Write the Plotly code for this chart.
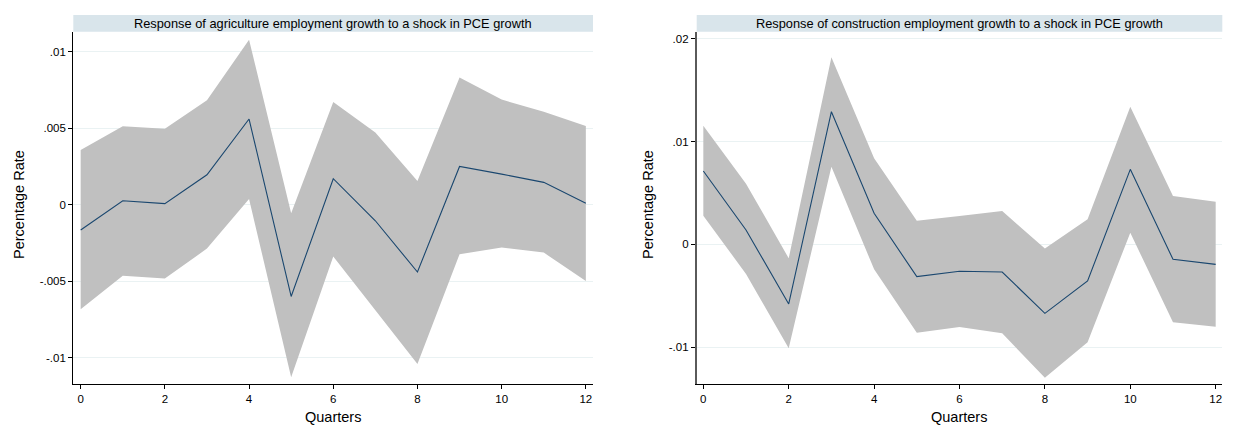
import plotly.graph_objects as go
from plotly.subplots import make_subplots

quarters = list(range(13))

agri_irf = [-0.00165, 0.00026, 0.00007, 0.00196, 0.0056, -0.0060, 0.0017,
            -0.00105, -0.0044, 0.0025, 0.0020, 0.00146, 0.0001]
agri_upper = [0.00357, 0.00513, 0.00496, 0.00683, 0.01079, -0.00056, 0.00672,
              0.00472, 0.00155, 0.00831, 0.00687, 0.00607, 0.00515]
agri_lower = [-0.00683, -0.00465, -0.00483, -0.00287, 0.00037, -0.01128, -0.00339,
              -0.0069, -0.01041, -0.00324, -0.0028, -0.00313, -0.00498]

cons_irf = [0.00714, 0.00139, -0.00581, 0.01291, 0.00302, -0.00315, -0.00263,
            -0.0027, -0.00672, -0.00357, 0.0073, -0.00146, -0.00195]
cons_upper = [0.01155, 0.0059, -0.00136, 0.01821, 0.00837, 0.0023, 0.00276,
              0.00324, -0.00042, 0.00243, 0.0134, 0.0047, 0.00415]
cons_lower = [0.00279, -0.00289, -0.01013, 0.00756, -0.00244, -0.0086, -0.00805,
              -0.00867, -0.01299, -0.00954, 0.00113, -0.0076, -0.00802]

titles = ["Response of agriculture employment growth to a shock in PCE growth",
          "Response of construction employment growth to a shock in PCE growth"]

left_yticks = [-0.01, -0.005, 0, 0.005, 0.01]
left_yticklabels = ["-.01", "-.005", "0", ".005", ".01"]
right_yticks = [-0.01, 0, 0.01, 0.02]
right_yticklabels = ["-.01", "0", ".01", ".02"]
xticks = [0, 2, 4, 6, 8, 10, 12]

W, H = 1233, 427
FONT = "Liberation Sans, Arial, sans-serif"
NAVY = "#1a476f"
BAND = "#c0c0c0"

fig = make_subplots(rows=1, cols=2)

panels = [
    (agri_irf, agri_upper, agri_lower, 1),
    (cons_irf, cons_upper, cons_lower, 2),
]
for irf, up, lo, col in panels:
    fig.add_trace(go.Scatter(x=quarters, y=up, mode="lines", line=dict(width=0),
                             showlegend=False, hoverinfo="skip"), row=1, col=col)
    fig.add_trace(go.Scatter(x=quarters, y=lo, mode="lines", line=dict(width=0),
                             fill="tonexty", fillcolor=BAND, showlegend=False,
                             hoverinfo="skip"), row=1, col=col)
    fig.add_trace(go.Scatter(x=quarters, y=irf, mode="lines",
                             line=dict(color=NAVY, width=1.1), showlegend=False),
                  row=1, col=col)

# pixel geometry
plot_top, plot_bot = 32, 384.3
ydom = [(H - plot_bot) / H, (H - plot_top) / H]
xdoms = [[73.3 / W, 593 / W], [696.7 / W, 1222.3 / W]]

axis_common = dict(showline=True, ticks="outside", ticklen=4, tickwidth=1,
                   tickcolor="#000000", zeroline=False,
                   tickfont=dict(family=FONT, size=11.5, color="#000000"))

fig.update_xaxes(row=1, col=1, domain=xdoms[0], range=[-0.175, 12.17],
                 tickvals=xticks, ticktext=[str(v) for v in xticks],
                 showgrid=False, linecolor="#000000", linewidth=1.3, **axis_common)
fig.update_xaxes(row=1, col=2, domain=xdoms[1], range=[-0.155, 12.155],
                 tickvals=xticks, ticktext=[str(v) for v in xticks],
                 showgrid=False, linecolor="#000000", linewidth=1.3, **axis_common)
fig.update_yaxes(row=1, col=1, domain=ydom, range=[-0.01174, 0.01129],
                 tickvals=left_yticks, ticktext=left_yticklabels,
                 showgrid=True, gridcolor="#eaf2f3", gridwidth=1,
                 linecolor="#000000", linewidth=1.3, **axis_common)
fig.update_yaxes(row=1, col=2, domain=ydom, range=[-0.01363, 0.02067],
                 tickvals=right_yticks, ticktext=right_yticklabels,
                 showgrid=True, gridcolor="#eaf2f3", gridwidth=1,
                 linecolor="#5a5a5a", linewidth=1.6, **axis_common)

band_top, band_bot = 15, 31.7
for i, (x0, x1) in enumerate(xdoms):
    fig.add_shape(type="rect", xref="paper", yref="paper",
                  x0=x0, x1=x1, y0=(H - band_bot) / H, y1=(H - band_top) / H,
                  fillcolor="#d9e5eb", line=dict(width=0), layer="below")
    fig.add_annotation(xref="paper", yref="paper", x=(x0 + x1) / 2,
                       y=(H - (band_top + band_bot) / 2) / H, text=titles[i],
                       showarrow=False, xanchor="center", yanchor="middle",
                       font=dict(family=FONT, size=12.8, color="#000000"))
    fig.add_annotation(xref="paper", yref="paper", x=(x0 + x1) / 2,
                       y=(H - 417) / H, text="Quarters", showarrow=False,
                       xanchor="center", yanchor="middle",
                       font=dict(family=FONT, size=14.5, color="#000000"))

for xc in [19, 648]:
    fig.add_annotation(xref="paper", yref="paper", x=xc / W,
                       y=(H - 205) / H, text="Percentage Rate", showarrow=False,
                       textangle=-90, xanchor="center", yanchor="middle",
                       font=dict(family=FONT, size=14.5, color="#000000"))

fig.update_layout(width=W, height=H, margin=dict(l=0, r=0, t=0, b=0),
                  paper_bgcolor="#ffffff", plot_bgcolor="#ffffff",
                  showlegend=False)

fig.write_html("out.html")
